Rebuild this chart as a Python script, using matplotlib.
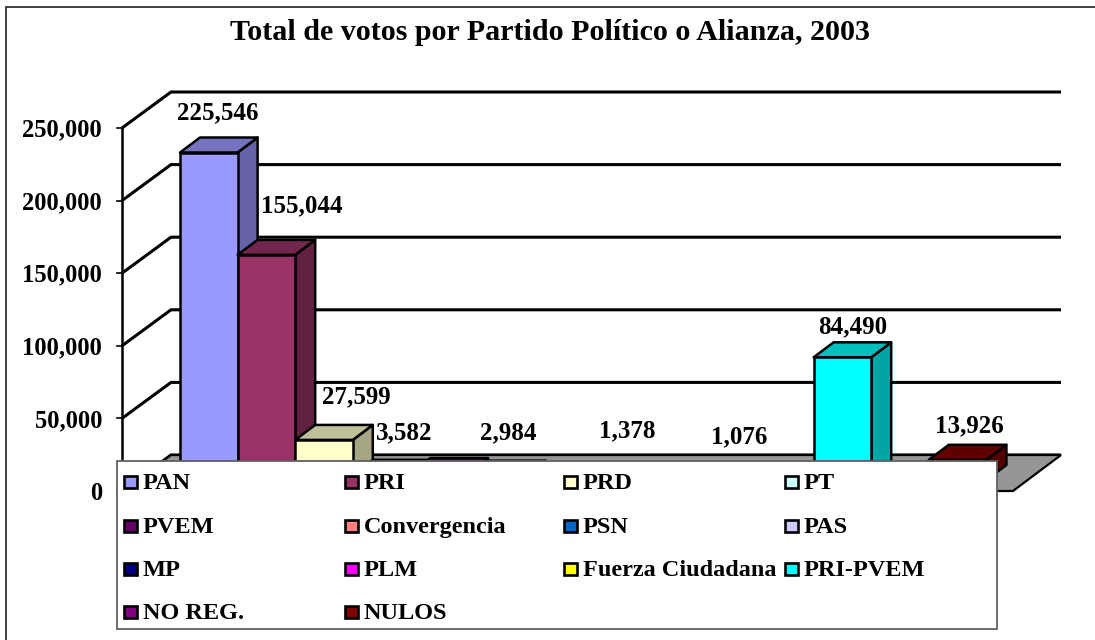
import matplotlib
matplotlib.use("Agg")
import matplotlib.pyplot as plt
from matplotlib.colors import to_rgb
from matplotlib.patches import Polygon, Rectangle

partidos = ['PAN', 'PRI', 'PRD', 'PT', 'PVEM', 'Convergencia', 'PSN', 'PAS',
            'MP', 'PLM', 'Fuerza Ciudadana', 'PRI-PVEM', 'NO REG.', 'NULOS']
# values behind the legend and without a label are estimates
votos = [225546, 155044, 27599, 3582, 4800, 2984, 500, 1378,
         300, 1076, 400, 84490, 200, 13926]
colores = ['#9999FF', '#993366', '#FFFFCC', '#CCFFFF', '#660066', '#FF8080', '#0066CC', '#CCCCFF',
           '#000080', '#FF00FF', '#FFFF00', '#00FFFF', '#800080', '#800000']
con_etiqueta = ['PAN', 'PRI', 'PRD', 'PT', 'Convergencia', 'PAS', 'PLM', 'PRI-PVEM', 'NULOS']
ticks = [0, 50000, 100000, 150000, 200000, 250000]

# label shift from the top of the bar, in pixels
etiqueta_dx = [-1, 25, 22, 13, 0, 1, 0, 5, 0, 2, 0, 0, 0, 2]
etiqueta_dy = [25, 34, 28, 27, 0, 28, 0, 32, 0, 27, 0, 16, 0, 19]

W, H = 1095, 640
PX_CAT = 57.6  # pixels per bar
PX_VOTO = 72.6 / 50000  # pixels per vote
X0, Y0 = 180, 480  # pixel of bar 0, zero votes


def px_x(p):
    return (p - X0) / PX_CAT


def px_y(p):
    return (Y0 - p) / PX_VOTO


plt.rcParams['font.family'] = 'Liberation Serif'
plt.rcParams['font.weight'] = 'bold'

fig = plt.figure(figsize=(W / 100, H / 100), dpi=100)
ax = fig.add_axes([0, 0, 1, 1])
ax.set_xlim(px_x(0), px_x(W))
ax.set_ylim(px_y(H), px_y(0))
ax.axis('off')

# chart frame
ax.plot([px_x(6), px_x(6), px_x(W)], [px_y(H), px_y(7), px_y(7)], color='#303030', lw=1.3,
        solid_joinstyle='miter', zorder=1)

ax.text(px_x(550.5), px_y(32), 'Total de votos por Partido Político o Alianza, 2003',
        fontsize=21.65, ha='center', va='center', color='black', zorder=2)

# walls
fx0, fx1 = px_x(122), px_x(1013)
bx0, bx1 = px_x(171), px_x(1061)
f0, b0 = px_y(491), px_y(455)
for t in ticks:
    yf = f0 + t
    yb = b0 + t
    ax.plot([fx0, bx0, bx1], [yf, yb, yb], color='black', lw=2.2, zorder=2,
            solid_joinstyle='miter', solid_capstyle='butt')
    ax.plot([px_x(117), fx0], [yf, yf], color='black', lw=1.2, zorder=2)
    ax.annotate(f'{t:,}', xy=(px_x(102), yf), xytext=(0, -1.5), textcoords='offset points',
                fontsize=17.7, ha='right', va='center', zorder=2)
ax.plot([fx0, fx0], [f0, f0 + ticks[-1]], color='black', lw=1.8, zorder=2)

# floor
ax.add_patch(Polygon([(fx0, f0), (bx0, b0), (bx1, b0), (fx1, f0)], closed=True, facecolor='#969696',
                     edgecolor='black', lw=1.6, zorder=3))

# bars
DX = 20 / PX_CAT
DY = 15 / PX_VOTO
for i, (v, c) in enumerate(zip(votos, colores)):
    r, g, b = to_rgb(c)
    lado = (r * 0.65, g * 0.65, b * 0.65)
    arriba = (r * 0.75, g * 0.75, b * 0.75)
    z = 4 + i * 0.01
    ax.add_patch(Polygon([(i + 1, 0), (i + 1 + DX, DY), (i + 1 + DX, v + DY), (i + 1, v)], closed=True,
                         facecolor=lado, edgecolor='black', lw=1.8, joinstyle='round', zorder=z))
    ax.add_patch(Polygon([(i, v), (i + DX, v + DY), (i + 1 + DX, v + DY), (i + 1, v)], closed=True,
                         facecolor=arriba, edgecolor='black', lw=1.8, joinstyle='round', zorder=z))
    ax.add_patch(Rectangle((i, 0), 1, v, facecolor=c, edgecolor='black', lw=1.8, zorder=z))
    if partidos[i] in con_etiqueta:
        ax.annotate(f'{v:,}', xy=(i + 0.5 + DX / 2, v + DY),
                    xytext=(etiqueta_dx[i] * 0.72, etiqueta_dy[i] * 0.72), textcoords='offset points',
                    fontsize=18, ha='center', va='center', zorder=6)

# legend
ax.add_patch(Rectangle((px_x(117), px_y(629)), px_x(997) - px_x(117), px_y(461) - px_y(629),
                       facecolor='white', edgecolor='#606060', lw=1.3, zorder=7))
col_x = [124, 344.5, 564, 785]
fila_y = [482, 526, 569, 612]
for i, (p, c) in enumerate(zip(partidos, colores)):
    x = col_x[i % 4]
    y = fila_y[i // 4]
    ax.add_patch(Rectangle((px_x(x), px_y(y + 6)), 13 / PX_CAT, 12 / PX_VOTO, facecolor=c,
                           edgecolor='black', lw=1.9, zorder=8))
    ax.text(px_x(x + 19), px_y(y - 1), p, fontsize=17.5, ha='left', va='center_baseline', zorder=8)

fig.savefig('out.png', dpi=100)
